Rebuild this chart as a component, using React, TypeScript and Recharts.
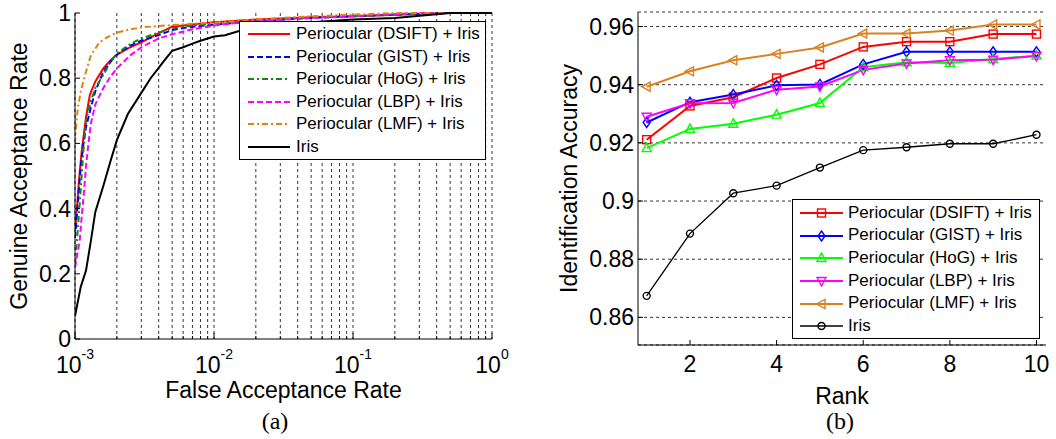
import React from 'react';
import { LineChart, Line, XAxis, YAxis, CartesianGrid, Legend } from 'recharts';

const FONT = '"Liberation Sans", Arial, Helvetica, sans-serif';
const SERIF = '"Liberation Serif", "Times New Roman", serif';

// ---- (a) ROC: false acceptance rate (log) vs genuine acceptance rate ----
const farDsift = [0.001, 0.00104, 0.00107, 0.00112, 0.0012, 0.00128, 0.0014, 0.0016, 0.0018, 0.002, 0.0025, 0.003, 0.004, 0.005, 0.007, 0.01, 0.02, 0.05, 0.1, 0.2, 0.4, 1];
const garDsift = [0.33, 0.42, 0.49, 0.58, 0.68, 0.75, 0.79, 0.83, 0.855, 0.872, 0.895, 0.91, 0.938, 0.958, 0.965, 0.972, 0.98, 0.987, 0.99, 0.995, 1, 1];

const farGist = [0.001, 0.00105, 0.0011, 0.00115, 0.0012, 0.0013, 0.0014, 0.0016, 0.0018, 0.002, 0.0025, 0.003, 0.004, 0.005, 0.007, 0.01, 0.02, 0.05, 0.1, 0.2, 0.5, 1];
const garGist = [0.31, 0.42, 0.53, 0.6, 0.65, 0.71, 0.76, 0.82, 0.85, 0.872, 0.9, 0.915, 0.932, 0.948, 0.958, 0.964, 0.975, 0.985, 0.99, 0.995, 1, 1];

const farHog = [0.001, 0.00105, 0.0011, 0.00115, 0.0012, 0.0013, 0.0014, 0.0016, 0.0018, 0.002, 0.0025, 0.003, 0.004, 0.005, 0.007, 0.01, 0.02, 0.05, 0.1, 0.2, 0.5, 1];
const garHog = [0.23, 0.34, 0.46, 0.58, 0.67, 0.73, 0.77, 0.81, 0.85, 0.876, 0.905, 0.922, 0.94, 0.953, 0.962, 0.968, 0.978, 0.986, 0.99, 0.995, 1, 1];

const farLbp = [0.001, 0.00108, 0.00112, 0.00116, 0.0012, 0.00125, 0.0013, 0.0014, 0.0016, 0.0018, 0.002, 0.0025, 0.003, 0.004, 0.005, 0.007, 0.01, 0.02, 0.05, 0.1, 0.3, 1];
const garLbp = [0.22, 0.3, 0.38, 0.45, 0.53, 0.6, 0.66, 0.72, 0.77, 0.805, 0.83, 0.87, 0.895, 0.922, 0.935, 0.95, 0.962, 0.975, 0.985, 0.99, 1, 1];

const farLmf = [0.001, 0.00102, 0.00105, 0.0011, 0.0012, 0.0013, 0.0015, 0.0017, 0.002, 0.0025, 0.003, 0.004, 0.005, 0.007, 0.01, 0.02, 0.05, 0.1, 0.2, 1];
const garLmf = [0.6, 0.66, 0.71, 0.76, 0.82, 0.87, 0.91, 0.925, 0.94, 0.95, 0.956, 0.96, 0.963, 0.967, 0.97, 0.98, 0.99, 0.995, 1, 1];

const farIris = [0.001, 0.0011, 0.0012, 0.0013, 0.0014, 0.0016, 0.0018, 0.002, 0.0024, 0.003, 0.0035, 0.004, 0.0045, 0.005, 0.006, 0.007, 0.008, 0.01, 0.012, 0.016, 0.02, 0.03, 0.05, 0.1, 0.2, 0.5, 1];
const garIris = [0.07, 0.16, 0.21, 0.3, 0.39, 0.47, 0.545, 0.61, 0.69, 0.755, 0.8, 0.832, 0.86, 0.884, 0.895, 0.906, 0.915, 0.928, 0.932, 0.948, 0.955, 0.965, 0.972, 0.98, 0.985, 1, 1];

const farTicks = [
  0.001, 0.002, 0.003, 0.004, 0.005, 0.006, 0.007, 0.008, 0.009,
  0.01, 0.02, 0.03, 0.04, 0.05, 0.06, 0.07, 0.08, 0.09,
  0.1, 0.2, 0.3, 0.4, 0.5, 0.6, 0.7, 0.8, 0.9, 1,
];
const garTicks = [0, 0.2, 0.4, 0.6, 0.8, 1];

// ---- (b) CMC: rank vs identification accuracy ----
const ranks = [1, 2, 3, 4, 5, 6, 7, 8, 9, 10];
const accDsift = [0.9211, 0.9327, 0.9357, 0.9423, 0.947, 0.953, 0.9548, 0.9548, 0.9574, 0.9574];
const accGist = [0.927, 0.934, 0.9366, 0.9398, 0.9401, 0.947, 0.9513, 0.9513, 0.9513, 0.9513];
const accHog = [0.9182, 0.9248, 0.9266, 0.9297, 0.9337, 0.946, 0.9477, 0.9475, 0.9488, 0.95];
const accLbp = [0.929, 0.9336, 0.9337, 0.9383, 0.9394, 0.9451, 0.9473, 0.9484, 0.9486, 0.9499];
const accLmf = [0.9393, 0.9446, 0.9484, 0.9506, 0.9528, 0.9576, 0.9576, 0.9586, 0.9607, 0.9607];
const accIris = [0.8674, 0.8888, 0.9027, 0.9053, 0.9115, 0.9175, 0.9185, 0.9197, 0.9197, 0.9228];

const rankTicks = [2, 4, 6, 8, 10];
const accTicks = [0.86, 0.88, 0.9, 0.92, 0.94, 0.96];

type MarkerKind = 'square' | 'diamond' | 'up' | 'down' | 'left' | 'circle';

const rocSeries = [
  { key: 'dsift', name: 'Periocular (DSIFT) + Iris', color: '#ff0000', dash: undefined, far: farDsift, gar: garDsift },
  { key: 'gist', name: 'Periocular (GIST) + Iris', color: '#0000ff', dash: '6 3', far: farGist, gar: garGist },
  { key: 'hog', name: 'Periocular (HoG) + Iris', color: '#108a10', dash: '6 3 2 3', far: farHog, gar: garHog },
  { key: 'lbp', name: 'Periocular (LBP) + Iris', color: '#ff00ff', dash: '6 3', far: farLbp, gar: garLbp },
  { key: 'lmf', name: 'Periocular (LMF) + Iris', color: '#e0820f', dash: '6 3 2 3', far: farLmf, gar: garLmf },
  { key: 'iris', name: 'Iris', color: '#000000', dash: undefined, far: farIris, gar: garIris },
];

const cmcSeries: { key: string; name: string; color: string; width: number; marker: MarkerKind; acc: number[] }[] = [
  { key: 'dsift', name: 'Periocular (DSIFT) + Iris', color: '#ff0000', width: 2, marker: 'square', acc: accDsift },
  { key: 'gist', name: 'Periocular (GIST) + Iris', color: '#0000ff', width: 2, marker: 'diamond', acc: accGist },
  { key: 'hog', name: 'Periocular (HoG) + Iris', color: '#00ff00', width: 2, marker: 'up', acc: accHog },
  { key: 'lbp', name: 'Periocular (LBP) + Iris', color: '#ff00ff', width: 2, marker: 'down', acc: accLbp },
  { key: 'lmf', name: 'Periocular (LMF) + Iris', color: '#d9821f', width: 2, marker: 'left', acc: accLmf },
  { key: 'iris', name: 'Iris', color: '#000000', width: 1.3, marker: 'circle', acc: accIris },
];

const cmcData = ranks.map((rank, i) => {
  const row: Record<string, number> = { rank };
  cmcSeries.forEach((s) => {
    row[s.key] = s.acc[i];
  });
  return row;
});

function MarkerShape({ kind, cx, cy, color }: { kind: MarkerKind; cx: number; cy: number; color: string }) {
  const common = { fill: 'none', stroke: color, strokeWidth: 1.4 };
  switch (kind) {
    case 'square':
      return <rect x={cx - 4} y={cy - 4} width={8} height={8} {...common} />;
    case 'diamond':
      return <path d={`M${cx},${cy - 5}L${cx + 3.5},${cy}L${cx},${cy + 5}L${cx - 3.5},${cy}Z`} {...common} />;
    case 'up':
      return <path d={`M${cx},${cy - 5}L${cx + 4.5},${cy + 3.5}L${cx - 4.5},${cy + 3.5}Z`} {...common} />;
    case 'down':
      return <path d={`M${cx},${cy + 5}L${cx + 4.5},${cy - 3.5}L${cx - 4.5},${cy - 3.5}Z`} {...common} />;
    case 'left':
      return <path d={`M${cx - 5},${cy}L${cx + 3.5},${cy - 4.5}L${cx + 3.5},${cy + 4.5}Z`} {...common} />;
    default:
      return <circle cx={cx} cy={cy} r={3.5} {...common} />;
  }
}

// inward tick marks on all four sides, labels only where asked
const isDecade = (v: number) => Math.abs(Math.log10(v) - Math.round(Math.log10(v))) < 1e-6;

const LogBottomTick = (props: any) => {
  const { x, y, payload } = props;
  const v = payload.value as number;
  const major = isDecade(v);
  return (
    <g>
      <line x1={x} y1={y} x2={x} y2={y - (major ? 6 : 3)} stroke="#000" />
      {major && (
        <text x={x} y={y + 34} textAnchor="middle" fontFamily={FONT} fontSize={23} fill="#000">
          10
          <tspan dy={-14} fontSize={14}>
            {String(Math.round(Math.log10(v)))}
          </tspan>
        </text>
      )}
    </g>
  );
};

const LogTopTick = (props: any) => {
  const { x, y, payload } = props;
  const major = isDecade(payload.value);
  return <line x1={x} y1={y} x2={x} y2={y + (major ? 6 : 3)} stroke="#000" />;
};

const BottomTick = (props: any) => {
  const { x, y, payload } = props;
  return (
    <g>
      <line x1={x} y1={y} x2={x} y2={y - 5} stroke="#000" />
      <text x={x} y={y + 27} textAnchor="middle" fontFamily={FONT} fontSize={23} fill="#000">
        {String(payload.value)}
      </text>
    </g>
  );
};

const TopTick = (props: any) => {
  const { x, y } = props;
  return <line x1={x} y1={y} x2={x} y2={y + 5} stroke="#000" />;
};

const LeftTick = (props: any) => {
  const { x, y, payload } = props;
  return (
    <g>
      <line x1={x} y1={y} x2={x + 5} y2={y} stroke="#000" />
      <text x={x - 4} y={y} dy={8} textAnchor="end" fontFamily={FONT} fontSize={23} fill="#000">
        {String(payload.value)}
      </text>
    </g>
  );
};

const RightTick = (props: any) => {
  const { x, y } = props;
  return <line x1={x} y1={y} x2={x - 5} y2={y} stroke="#000" />;
};

function LegendBox({
  rows,
  width,
  height,
  rowHeight,
  padTop,
  sampleLeft,
  sampleWidth,
  gap,
}: {
  rows: { key: string; name: string; color: string; dash?: string; width?: number; marker?: MarkerKind }[];
  width: number;
  height: number;
  rowHeight: number;
  padTop: number;
  sampleLeft: number;
  sampleWidth: number;
  gap: number;
}) {
  return (
    <div
      style={{
        width,
        height,
        boxSizing: 'border-box',
        border: '1px solid #000',
        background: '#fff',
        paddingTop: padTop,
        fontFamily: FONT,
        fontSize: 17,
        color: '#000',
      }}
    >
      {rows.map((r) => (
        <div key={r.key} style={{ display: 'flex', alignItems: 'center', height: rowHeight, whiteSpace: 'nowrap' }}>
          <svg width={sampleWidth} height={12} style={{ marginLeft: sampleLeft, flex: 'none' }}>
            <line
              x1={0}
              y1={6}
              x2={sampleWidth}
              y2={6}
              stroke={r.color}
              strokeWidth={r.width ?? 2}
              strokeDasharray={r.dash}
            />
            {r.marker && <MarkerShape kind={r.marker} cx={sampleWidth / 2} cy={6} color={r.color} />}
          </svg>
          <span style={{ marginLeft: gap, lineHeight: `${rowHeight}px` }}>{r.name}</span>
        </div>
      ))}
    </div>
  );
}

function RocChart() {
  return (
    <LineChart width={530} height={439} margin={{ top: 13, right: 38, bottom: 40, left: 0 }}>
      <CartesianGrid horizontal={false} stroke="#000" strokeDasharray="3 3" strokeWidth={0.8} />
      <XAxis
        dataKey="far"
        type="number"
        scale="log"
        domain={[0.001, 1]}
        allowDataOverflow
        ticks={farTicks}
        interval={0}
        height={60}
        tickSize={0}
        tickMargin={0}
        tickLine={false}
        axisLine={{ stroke: '#000' }}
        tick={LogBottomTick}
        label={{ value: 'False Acceptance Rate', position: 'insideBottom', offset: 1, fontSize: 23, fill: '#000', fontFamily: FONT }}
      />
      <XAxis
        xAxisId="top"
        orientation="top"
        type="number"
        scale="log"
        domain={[0.001, 1]}
        allowDataOverflow
        ticks={farTicks}
        interval={0}
        height={0}
        tickSize={0}
        tickMargin={0}
        tickLine={false}
        axisLine={{ stroke: '#000' }}
        tick={LogTopTick}
      />
      <YAxis
        type="number"
        domain={[0, 1]}
        ticks={garTicks}
        interval={0}
        width={75}
        tickSize={0}
        tickMargin={0}
        tickLine={false}
        axisLine={{ stroke: '#000' }}
        tick={LeftTick}
        label={{
          value: 'Genuine Acceptance Rate',
          angle: -90,
          position: 'insideLeft',
          offset: 19,
          fontSize: 23,
          fill: '#000',
          fontFamily: FONT,
          style: { textAnchor: 'middle' },
        }}
      />
      <YAxis
        yAxisId="right"
        orientation="right"
        type="number"
        domain={[0, 1]}
        ticks={garTicks}
        interval={0}
        width={0}
        tickSize={0}
        tickMargin={0}
        tickLine={false}
        axisLine={{ stroke: '#000' }}
        tick={RightTick}
      />
      {rocSeries.map((s) => (
        <Line
          key={s.key}
          data={s.far.map((far, i) => ({ far, gar: s.gar[i] }))}
          dataKey="gar"
          name={s.name}
          type="linear"
          stroke={s.color}
          strokeWidth={2}
          strokeDasharray={s.dash}
          dot={false}
          activeDot={false}
          isAnimationActive={false}
        />
      ))}
      <Legend
        layout="horizontal"
        verticalAlign="middle"
        align="center"
        wrapperStyle={{ left: 239, top: 21, width: 247, height: 139 }}
        content={() => (
          <LegendBox rows={rocSeries} width={247} height={139} rowHeight={22.5} padTop={1} sampleLeft={8} sampleWidth={42} gap={6} />
        )}
      />
    </LineChart>
  );
}

function CmcChart() {
  return (
    <LineChart width={526} height={439} data={cmcData} margin={{ top: 12, right: 10, bottom: 34, left: 0 }}>
      <CartesianGrid vertical={false} stroke="#000" strokeDasharray="3 3" strokeWidth={0.8} />
      <XAxis
        dataKey="rank"
        type="number"
        domain={[0.8, 10.22]}
        allowDataOverflow
        ticks={rankTicks}
        interval={0}
        height={60}
        tickSize={0}
        tickMargin={0}
        tickLine={false}
        axisLine={{ stroke: '#000' }}
        tick={BottomTick}
        label={{ value: 'Rank', position: 'insideBottom', offset: 1, fontSize: 23, fill: '#000', fontFamily: FONT }}
      />
      <XAxis
        xAxisId="top"
        orientation="top"
        type="number"
        domain={[0.8, 10.22]}
        allowDataOverflow
        ticks={rankTicks}
        interval={0}
        height={0}
        tickSize={0}
        tickMargin={0}
        tickLine={false}
        axisLine={{ stroke: '#000' }}
        tick={TopTick}
      />
      <YAxis
        type="number"
        domain={[0.8505, 0.965]}
        allowDataOverflow
        ticks={accTicks}
        interval={0}
        width={108}
        tickSize={0}
        tickMargin={0}
        tickLine={false}
        axisLine={{ stroke: '#000' }}
        tick={LeftTick}
        label={{
          value: 'Identification Accuracy',
          angle: -90,
          position: 'insideLeft',
          offset: 39,
          fontSize: 23,
          fill: '#000',
          fontFamily: FONT,
          style: { textAnchor: 'middle' },
        }}
      />
      <YAxis
        yAxisId="right"
        orientation="right"
        type="number"
        domain={[0.8505, 0.965]}
        allowDataOverflow
        ticks={accTicks}
        interval={0}
        width={0}
        tickSize={0}
        tickMargin={0}
        tickLine={false}
        axisLine={{ stroke: '#000' }}
        tick={RightTick}
      />
      {cmcSeries.map((s) => (
        <Line
          key={s.key}
          dataKey={s.key}
          name={s.name}
          type="linear"
          stroke={s.color}
          strokeWidth={s.width}
          dot={(p: any) => <MarkerShape key={`${s.key}-${p.index}`} kind={s.marker} cx={p.cx} cy={p.cy} color={s.color} />}
          activeDot={false}
          isAnimationActive={false}
        />
      ))}
      <Legend
        layout="horizontal"
        verticalAlign="middle"
        align="center"
        wrapperStyle={{ left: 262, top: 199, width: 248, height: 140 }}
        content={() => (
          <LegendBox rows={cmcSeries} width={248} height={140} rowHeight={22.7} padTop={1.5} sampleLeft={7} sampleWidth={43} gap={5} />
        )}
      />
    </LineChart>
  );
}

export default function App() {
  return (
    <div style={{ position: 'absolute', left: 0, top: 0, width: 1056, height: 439, background: '#fff', fontFamily: FONT }}>
      <div style={{ position: 'absolute', left: 0, top: 0 }}>
        <RocChart />
      </div>
      <div style={{ position: 'absolute', left: 530, top: 0 }}>
        <CmcChart />
      </div>
      <svg width={1056} height={439} style={{ position: 'absolute', left: 0, top: 0, pointerEvents: 'none' }}>
        <text x={275} y={429} textAnchor="middle" fontFamily={SERIF} fontSize={24} fill="#000">
          (a)
        </text>
        <text x={840} y={429} textAnchor="middle" fontFamily={SERIF} fontSize={24} fill="#000">
          (b)
        </text>
      </svg>
    </div>
  );
}
